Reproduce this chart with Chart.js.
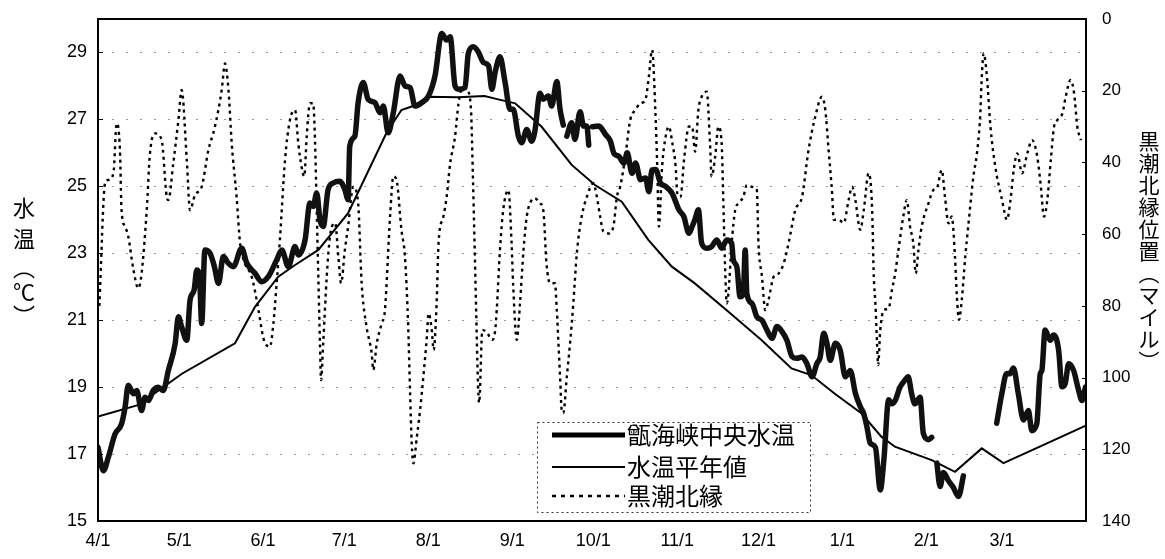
<!DOCTYPE html>
<html><head><meta charset="utf-8">
<script src="https://cdn.jsdelivr.net/npm/chart.js@4.4.1/dist/chart.umd.min.js"></script>
<style>html,body{margin:0;padding:0;background:#fff;}#wrap{width:1165px;height:559px;}</style>
</head><body><div id="wrap"><canvas id="c" width="1165" height="559"></canvas></div>
<script>
const monthLabels = ['4/1','5/1','6/1','7/1','8/1','9/1','10/1','11/1','12/1','1/1','2/1','3/1'];
const monthDays = [0,30,61,91,122,153,183,214,244,275,306,334];
const leftTicks = [15,17,19,21,23,25,27,29];
const rightTicks = [0,20,40,60,80,100,120,140];

const seriesNames = ['甑海峡中央水温','水温平年値','黒潮北縁'];

const tempDays = [0,2,3.8,6.3,8.7,10,11.2,13.1,14.3,16.1,17.4,18.6,20.4,22.3,24.1,26,28.5,29.7,30.9,32.8,34,35.5,36.5,37.5,38.3,39.5,41.4,43,44.5,46.3,48.2,50,53.1,55,58,60.5,62.9,66,67.9,70.3,72.8,74,76.5,78.3,79.5,80.8,82,83.2,85,86.9,89.3,91.2,92.4,93,94.9,96.1,98,99.8,102.3,104.2,105.4,107.2,109.1,111.6,113.4,115.3,117.1,119.6,122.1,124.5,127,128.8,130.1,131.9,133.2,135.6,136.8,138.7,140.6,142.4,144.3,145.5,146.7,148.5,150.4,152.2,153.4,155.3,156.5,158.4,160.2,161.4,163.3,164.5,166.4,167.6,169.5,170.7,171.9,172.5,173.2,175,176.2,178.1,179.4,180.6,181.3,182,182.6,185,187.5,189.3,190.6,192.4,194.3,195.5,197.3,198.6,200.4,202.3,203.5,204.7,206,207.8,209.7,212.1,214.6,216.4,218.3,219.5,220.5,221.8,223,224.9,226.7,228.6,230.4,232.3,234.1,234.7,236,237.2,238.4,239.1,239.7,241.6,243.4,245.3,247.1,249,250.8,252.7,254.5,256.4,258.2,260.1,261.9,263.8,265.6,266.8,268.1,269.3,270.5,272.4,274.2,276.1,277.9,279.8,281.6,282.9,284.1,285.3,287.2,289,290.3,292.1,293.3,294.5,296.3,298.1,299.3,300.6,301.8,303.7,304.9,306.8,308,309,309.9,311.1,312.3,314.2,316,317.9,319.7,325,332,333.9,335.7,336.9,338.2,340,341.9,343.7,345,346.8,348.1,348.7,349.9,351.8,353,354.9,356.1,357.3,358.6,360.4,362.3,363.5,364.8];
const tempVals = [17.2,16.5,16.9,17.6,17.9,18.4,19.06,18.8,18.9,18.3,18.7,18.6,18.9,19.0,18.9,19.5,20.3,21.1,20.8,20.4,21.6,21.9,22.5,22.3,20.9,23.1,23.0,22.6,22.1,22.9,22.7,22.6,23.15,22.7,22.4,22.15,22.3,22.8,23.1,22.6,23.2,22.95,23.4,24.5,24.4,24.8,24.0,23.8,24.9,25.1,25.15,24.9,24.6,26.2,26.5,27.5,28.1,27.6,27.5,27.2,27.4,26.6,27.2,28.3,28.0,27.95,27.4,27.5,27.7,28.3,29.57,29.37,29.47,28.0,27.9,27.95,28.97,29.17,29.0,28.7,28.6,27.9,28.4,28.87,28.1,27.3,27.3,26.5,26.3,26.7,26.35,26.65,27.78,27.6,27.7,27.4,28.13,27.3,26.83,null,26.5,26.9,26.4,27.23,26.8,26.8,26.23,null,26.78,26.8,26.55,26.35,25.98,25.9,25.69,26.0,25.39,25.7,25.2,25.25,24.84,25.49,25.5,25.1,25.0,24.79,24.3,24.1,23.6,23.8,24.0,24.3,23.3,23.15,23.2,23.4,23.15,23.4,23.3,22.8,22.6,21.7,21.8,23.1,21.8,21.5,21.1,21.0,20.71,20.46,20.81,20.66,20.4,19.91,19.86,19.9,19.7,19.31,19.71,19.9,20.61,20.31,19.8,20.31,20.1,19.31,19.5,18.82,18.42,18.2,17.8,17.32,17.2,15.93,16.8,18.62,18.5,18.6,19.0,19.21,19.31,18.8,18.5,18.7,17.62,17.43,17.5,null,16.73,16.03,16.45,16.2,16.0,15.73,16.35,null,17.92,18.8,19.41,19.4,19.57,18.8,18.02,18.3,17.7,17.9,19.4,19.5,20.71,20.4,20.56,20.1,19.01,19.1,19.7,19.5,18.9,18.6,19.0];

const normDays = [0,15,31,50.6,58,66.6,72.8,81.4,92.4,106.6,112.1,116.4,122,133,142.8,146.7,154.1,163.9,175,183.6,193.5,203.3,212,220.5,232.8,245.1,256.2,263.5,272.2,282,289.4,294.4,308,316.6,326.5,334.5,353.6,364.7];
const normVals = [18.12,18.47,19.4,20.31,21.4,22.3,22.65,23.1,24.2,26.6,27.28,27.4,27.68,27.66,27.7,27.62,27.48,26.78,25.64,25.04,24.54,23.4,22.6,22.1,21.26,20.41,19.56,19.36,18.8,18.22,17.52,17.22,16.82,16.47,17.17,16.73,17.43,17.84];

const kuroDays = [0.5,2.6,3.8,5.7,6.9,8.1,8.7,10,11.2,13.1,14.9,16.1,18,19.2,21.1,23.5,25.4,26,27.8,29.7,30.9,32.8,34,35.8,38.3,40.8,43.2,45.7,46.9,48.2,49.4,51.2,52.5,54.3,56.8,59.3,61.1,63.5,64.8,66,67.2,69.1,70.9,72.8,74,75.2,76.2,77.1,78.3,79.5,80.2,80.8,81.4,82,82.4,83.2,84.5,85.7,87.6,88.8,89.8,91.2,92.4,94.3,96.1,97.4,99.2,101.1,101.7,103,104.8,106,107.9,109.1,110.3,112.1,113.4,114.6,115.3,115.9,116.5,117.8,119,120.2,121.5,122.1,123.3,124,125.1,125.8,127.6,128.8,130.1,131.9,133.2,134.8,136.5,137.8,138.5,139.7,140.3,140.8,142,143.8,145.6,146.7,147.3,148.5,149.7,151.6,152.8,153.4,154.7,155.9,157.2,158.4,160.2,161.4,163.3,164.5,165.7,167,168.8,169.5,170.1,170.7,171.3,171.9,173.2,174.4,175.6,176.9,178.7,180.6,183,184.3,185.5,186.7,188.6,190.4,191.7,192.9,194.8,196.6,198.5,200.4,202.2,203.5,204.7,205.9,206.6,207.2,208.4,209.7,210.9,212.2,213.4,214,215.2,216.5,218.3,219.5,220.6,221.8,223,224.9,226.1,226.7,228,229.2,230.4,231.1,231.7,232.3,232.9,234.1,235.4,236.6,238.4,239.7,241.6,243.4,244,245.3,246.5,247.7,249.6,251.4,253.3,255.1,257.6,260.1,262.5,265,267.4,268.7,269.9,271.2,271.8,273.6,275.5,277.3,278.6,279.8,281.6,282.9,284.7,286,286.6,287.2,287.8,288.2,289,290.3,292.1,293.3,294.5,295.7,297.5,298.8,300,301.2,302.1,303.1,304.3,306.8,308.6,309.9,311.7,312.9,314.2,315.4,316.6,317.3,318.1,319.1,320.4,321.6,323.4,324.7,325.9,326.5,327.2,328.4,329.7,331.5,334,335.8,337.1,338.3,339.6,341.4,343.3,345.1,347,348.2,349.5,350.7,352,353.2,354.4,356.3,357.5,359.3,360.6,361.8,363.1];
const kuroVals = [80,45.8,44.9,43.0,29.1,36.5,53.3,57.9,60.7,70,75.1,71,53.3,37.5,31.9,33.7,49.6,50.5,40.3,28.2,19.8,39.3,53.3,49.1,46.8,36.5,30,19.8,12.4,19.8,34.7,49.6,62.6,68.2,71.9,81.2,89.0,91.4,84.9,73.7,61.6,39.3,28.2,25.4,34.7,41.2,43.9,32.8,23.5,23.5,34.7,53.3,71.9,90.4,100.7,90.4,71.9,60.7,56.9,66.3,73.7,64.4,57.9,46.8,51.4,73.7,85.8,93.2,97.9,90.4,84.9,81.2,55.1,43.9,44.9,58.8,66.3,85.8,104.4,118.3,123.9,116.5,109,99.7,88.6,82.1,86.7,92.3,79.3,62.6,55.1,49.6,40.3,32.8,23.5,19,20,25.4,43.9,81.2,99.7,107.1,86.7,87.6,89.5,87,81.2,64.4,53.3,47.7,62.6,74.6,89.5,79.3,64.4,55.1,50.5,50,51.4,53.3,68.2,73.7,73.7,81.2,90.4,99.7,109,109.9,99.7,90.4,79.3,65.3,55.1,49.6,45.8,49.6,55.1,59.3,59.8,57.9,49.6,46.8,38.4,28.2,25.4,23.5,22.6,16.1,8.6,25.4,41.2,57.9,41.2,32.8,30,34.7,41.2,48.6,49.6,39.3,30,30,37,25.4,21.7,20.3,34.7,43.9,38.4,30,34.7,53.3,70,79.3,76.5,62.6,53.3,51.4,49.6,46.3,46.8,47.7,62.6,71.9,81.2,78.4,71.9,71,68.2,62.6,53.3,49.6,36.5,27.2,21.7,25.4,36.5,48.6,56,56,56.9,50.5,46.8,50.5,58.8,53.3,43,53.3,71.9,79.3,90.4,96.5,86.7,81.2,80.7,75.6,71,64.4,55.1,50.5,57.9,62.6,71,64.4,57.9,51.4,47.7,47.2,42.1,49.6,57,55.1,66.3,77.4,83.9,78.4,66.3,57,43.9,37.5,27.2,16.1,9.6,16.1,30,41.2,50.5,56,50.5,42.1,37.5,43,37.5,33.8,38.4,45.8,55.1,50.5,39.3,30,28.2,26.3,21.7,17,20.7,30,33.8];

const pts = (xs, ys) => xs.map((x, i) => ({x: x, y: ys[i]}));
const NUM_FONT = "'Liberation Sans', Arial, sans-serif";
const JP_FONT = "'Noto Sans CJK JP', sans-serif";

const decor = {
  id: 'decor',
  beforeDatasetsDraw(chart) {
    const ctx = chart.ctx, a = chart.chartArea, y = chart.scales.y, y2 = chart.scales.y2;
    ctx.save();
    ctx.strokeStyle = 'rgba(0,0,0,0.4)';
    ctx.lineWidth = 1;
    ctx.setLineDash([2, 12]);
    leftTicks.forEach(v => {
      if (v === 15) return;
      const py = Math.round(y.getPixelForValue(v)) + 0.5;
      ctx.beginPath(); ctx.moveTo(a.left, py); ctx.lineTo(a.right, py); ctx.stroke();
    });
    ctx.setLineDash([]);
    ctx.strokeStyle = '#000';
    leftTicks.forEach(v => {
      const py = Math.round(y.getPixelForValue(v)) + 0.5;
      ctx.beginPath(); ctx.moveTo(a.left, py); ctx.lineTo(a.left + 5, py); ctx.stroke();
    });
    rightTicks.forEach(v => {
      const py = Math.round(y2.getPixelForValue(v)) + 0.5;
      ctx.beginPath(); ctx.moveTo(a.right - 4, py); ctx.lineTo(a.right, py); ctx.stroke();
    });
    ctx.restore();
  },
  afterDraw(chart) {
    const ctx = chart.ctx, a = chart.chartArea;
    ctx.save();
    ctx.strokeStyle = '#000'; ctx.lineWidth = 2; ctx.setLineDash([]);
    ctx.strokeRect(a.left, a.top, a.right - a.left, a.bottom - a.top);
    const lx = 537, ly = 422, lw = 273, lh = 90;
    ctx.fillStyle = '#fff';
    ctx.fillRect(lx, ly, lw, lh);
    ctx.strokeStyle = '#333'; ctx.lineWidth = 1; ctx.setLineDash([2, 3]);
    ctx.strokeRect(lx + 0.5, ly + 0.5, lw, lh);
    const rows = [435, 467, 496];
    const widths = [5, 2, 2.4];
    const dashes = [[], [], [4, 5]];
    rows.forEach((ry, i) => {
      ctx.setLineDash(dashes[i]);
      ctx.lineWidth = widths[i]; ctx.strokeStyle = '#000';
      ctx.beginPath(); ctx.moveTo(552, ry); ctx.lineTo(625, ry); ctx.stroke();
      ctx.fillStyle = '#000';
      ctx.font = '24px ' + JP_FONT;
      ctx.textBaseline = 'middle'; ctx.textAlign = 'left';
      ctx.fillText(seriesNames[i], 627, ry);
    });
    ctx.setLineDash([]);
    ctx.fillStyle = '#000';
    ctx.textAlign = 'center'; ctx.textBaseline = 'middle';
    ctx.font = '22px ' + JP_FONT;
    const leftChars = ['水', '温', '︵', '℃', '︶'];
    const leftY = [208, 239, 268, 292, 316];
    leftChars.forEach((c, i) => ctx.fillText(c, 24, leftY[i]));
    ctx.font = '21px ' + JP_FONT;
    const rightChars = ['黒', '潮', '北', '縁', '位', '置', '︵', 'マ', 'イ', 'ル', '︶'];
    rightChars.forEach((c, i) => ctx.fillText(c, 1149, 141 + i * 22));
    ctx.restore();
  }
};

const noPad = s => { s.paddingTop = 0; s.paddingBottom = 0; s.paddingLeft = 0; s.paddingRight = 0; };

new Chart(document.getElementById('c'), {
  type: 'line',
  data: {
    datasets: [
      { label: seriesNames[0], data: pts(tempDays, tempVals), yAxisID: 'y', borderColor: '#111', borderWidth: 5.5, pointRadius: 0, cubicInterpolationMode: 'monotone', spanGaps: false, borderJoinStyle: 'round', borderCapStyle: 'round' },
      { label: seriesNames[1], data: pts(normDays, normVals), yAxisID: 'y', borderColor: '#000', borderWidth: 2, pointRadius: 0, tension: 0 },
      { label: seriesNames[2], data: pts(kuroDays, kuroVals), yAxisID: 'y2', borderColor: '#000', borderWidth: 2.4, borderDash: [3, 4], pointRadius: 0, cubicInterpolationMode: 'monotone' }
    ]
  },
  options: {
    responsive: false,
    devicePixelRatio: 1,
    animation: false,
    layout: { padding: { top: 19, left: 0, right: 0, bottom: 0 } },
    plugins: { legend: { display: false }, tooltip: { enabled: false }, title: { display: false } },
    scales: {
      x: {
        type: 'linear', min: 0, max: 365, position: 'bottom',
        grid: { display: false, drawTicks: false }, border: { display: false },
        afterBuildTicks: s => { s.ticks = monthDays.map(v => ({ value: v })); },
        afterFit: s => { s.height = 38; noPad(s); },
        ticks: { autoSkip: false, maxRotation: 0, padding: 9, color: '#000', font: { size: 18, family: NUM_FONT },
          callback: v => { const i = monthDays.indexOf(v); return i >= 0 ? monthLabels[i] : ''; } }
      },
      y: {
        type: 'linear', position: 'left', min: 15, max: 30,
        grid: { display: false, drawTicks: false }, border: { display: false },
        afterBuildTicks: s => { s.ticks = leftTicks.map(v => ({ value: v })); },
        afterFit: s => { s.width = 98; noPad(s); },
        ticks: { padding: 11, color: '#000', font: { size: 18, family: NUM_FONT } }
      },
      y2: {
        type: 'linear', position: 'right', min: 0, max: 140, reverse: true,
        grid: { display: false, drawTicks: false }, border: { display: false },
        afterBuildTicks: s => { s.ticks = rightTicks.map(v => ({ value: v })); },
        afterFit: s => { s.width = 79; noPad(s); },
        ticks: { padding: 16, color: '#000', font: { size: 17, family: NUM_FONT } }
      }
    }
  },
  plugins: [decor]
});
</script></body></html>
